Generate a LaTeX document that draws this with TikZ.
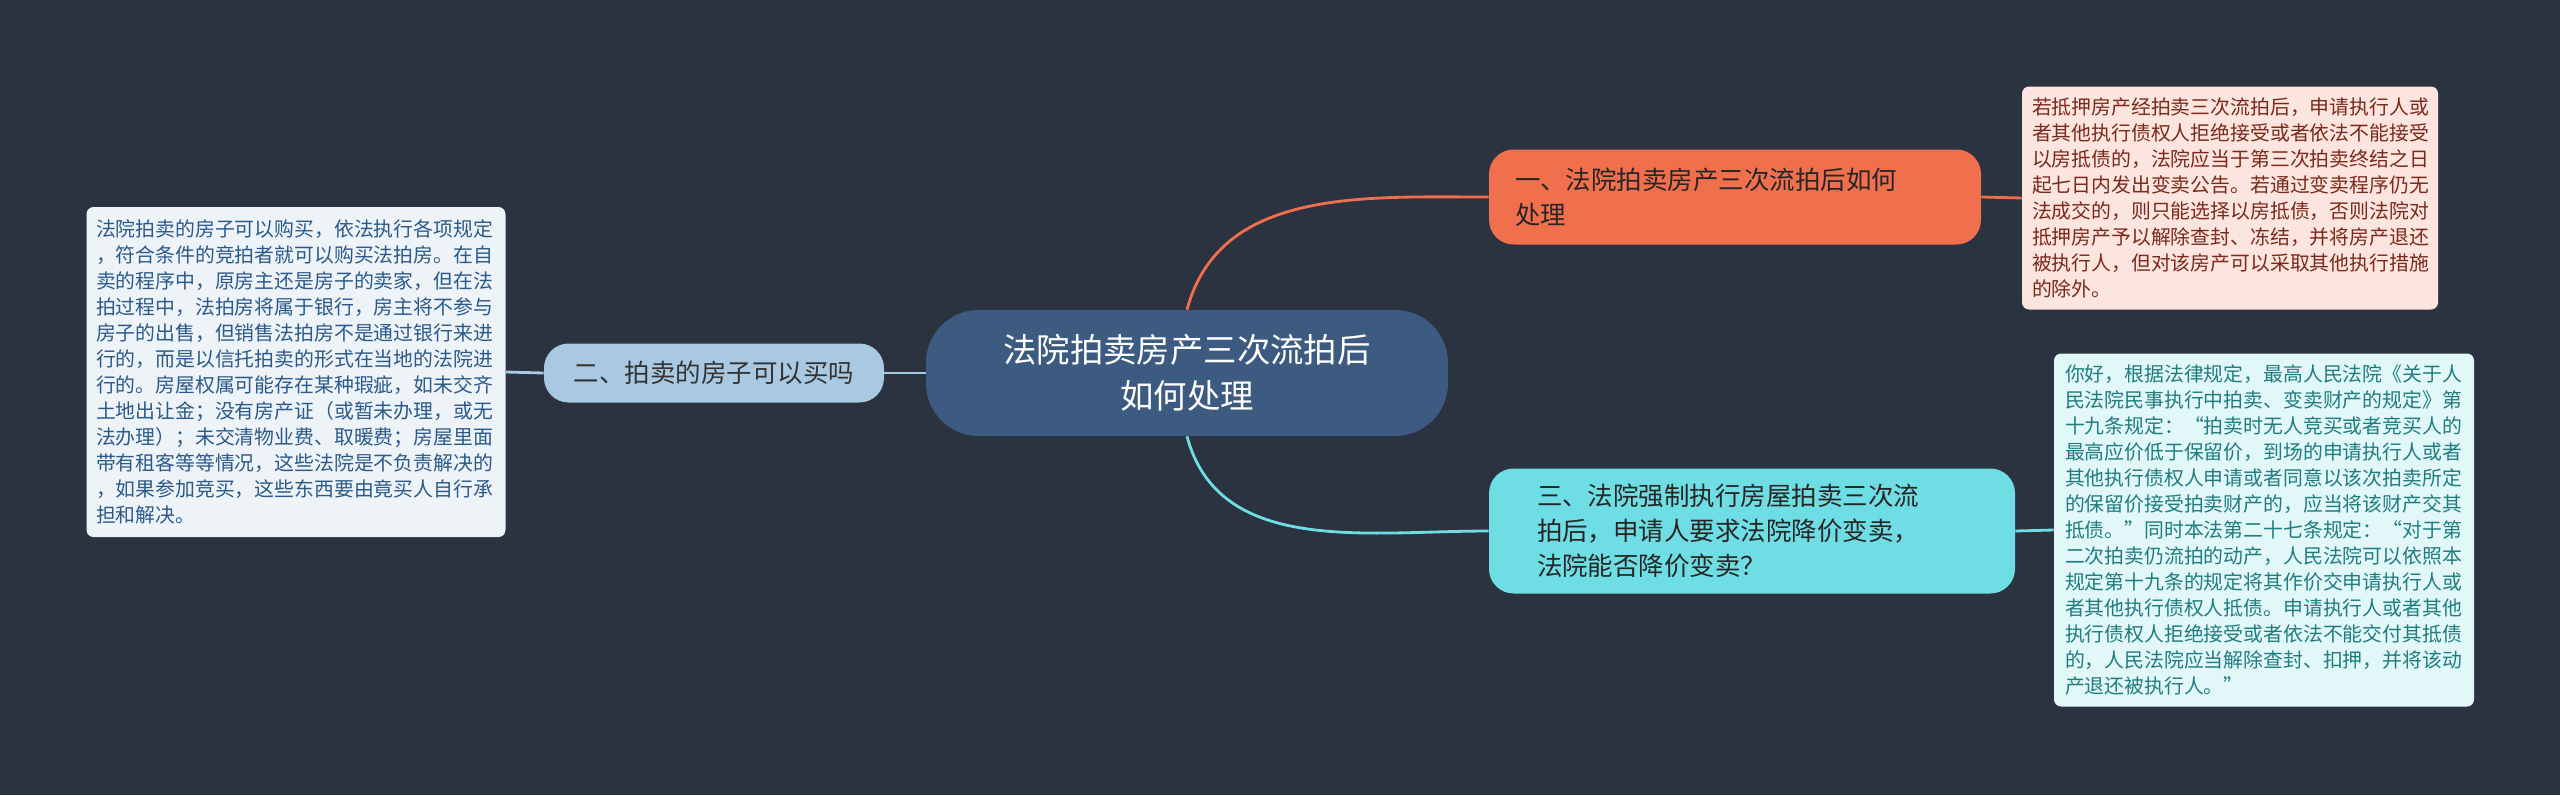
\documentclass[tikz,border=0pt]{standalone}
\usepackage{fontspec}
\setmainfont{Noto Sans CJK SC}
\usepackage{xcolor}
\usetikzlibrary{positioning}
\definecolor{bgdark}{HTML}{2B3240}
\definecolor{ctrblue}{HTML}{3D5A80}
\definecolor{brorange}{HTML}{F0704E}
\definecolor{brcyan}{HTML}{6EDDE4}
\definecolor{brblue}{HTML}{A9C9E2}
\definecolor{lforange}{HTML}{FCE4DF}
\definecolor{lfcyan}{HTML}{E2F7F8}
\definecolor{lfblue}{HTML}{EEF3F8}
\definecolor{txorange}{HTML}{7A2A1A}
\definecolor{txcyan}{HTML}{1F7C80}
\definecolor{txblue}{HTML}{2A5A8A}
\begin{document}
\begin{tikzpicture}[x=0.02cm, y=-0.02cm,
		topic/.style={rounded corners=30pt, align=center, inner sep=0pt}, % main nodes
		branch/.style={rounded corners=14pt, align=left, inner sep=0pt},
		leaf/.style={rounded corners=4pt, align=left, inner sep=0pt,
			font=\fontsize{11.3pt}{14.8pt}\selectfont},
		link/.style={line width=1.6pt}
		]
		\fill[bgdark] (0,0) rectangle (2560,795);
		% centre
		\node[topic, fill=ctrblue, text=white, minimum width=522*0.02cm, minimum height=126*0.02cm,
			font=\fontsize{19pt}{26pt}\selectfont] (ctr) at (1187,373) {法院拍卖房产三次流拍后\\如何处理};
		% branches
		\node[branch, fill=brorange, text=black!85, minimum width=492*0.02cm, minimum height=95*0.02cm,
			text width=440*0.02cm, font=\fontsize{14.5pt}{20pt}\selectfont] (sell) at (1735,197)
			{一、法院拍卖房产三次流拍后如何\\处理};
		\node[branch, fill=brblue, text=black!80, minimum width=340*0.02cm, minimum height=59*0.02cm,
			align=center, font=\fontsize{14.5pt}{20pt}\selectfont] (buy) at (714,373)
			{二、拍卖的房子可以买吗};
		\node[branch, fill=brcyan, text=black!85, minimum width=526*0.02cm, minimum height=125*0.02cm,
			text width=430*0.02cm, font=\fontsize{14.5pt}{20pt}\selectfont] (price) at (1752,531)
			{三、法院强制执行房屋拍卖三次流\\拍后，申请人要求法院降价变卖，\\法院能否降价变卖？};
		% leaves
		\node[leaf, fill=lforange, text=txorange, minimum width=416*0.02cm, minimum height=223*0.02cm,
			text width=396*0.02cm] (sellinfo) at (2230,198)
			{若抵押房产经拍卖三次流拍后，申请执行人或\\者其他执行债权人拒绝接受或者依法不能接受\\以房抵债的，法院应当于第三次拍卖终结之日\\起七日内发出变卖公告。若通过变卖程序仍无\\法成交的，则只能选择以房抵债，否则法院对\\抵押房产予以解除查封、冻结，并将房产退还\\被执行人，但对该房产可以采取其他执行措施\\的除外。};
		\node[leaf, fill=lfcyan, text=txcyan, minimum width=420*0.02cm, minimum height=353*0.02cm,
			text width=398*0.02cm] (priceinfo) at (2264,530)
			{你好，根据法律规定，最高人民法院《关于人\\民法院民事执行中拍卖、变卖财产的规定》第\\十九条规定：“拍卖时无人竞买或者竞买人的\\最高应价低于保留价，到场的申请执行人或者\\其他执行债权人申请或者同意以该次拍卖所定\\的保留价接受拍卖财产的，应当将该财产交其\\抵债。”同时本法第二十七条规定：“对于第\\二次拍卖仍流拍的动产，人民法院可以依照本\\规定第十九条的规定将其作价交申请执行人或\\者其他执行债权人抵债。申请执行人或者其他\\执行债权人拒绝接受或者依法不能交付其抵债\\的，人民法院应当解除查封、扣押，并将该动\\产退还被执行人。”};
		\node[leaf, fill=lfblue, text=txblue, minimum width=419*0.02cm, minimum height=330*0.02cm,
			text width=400*0.02cm] (buyinfo) at (296,372)
			{法院拍卖的房子可以购买，依法执行各项规定\\，符合条件的竞拍者就可以购买法拍房。在自\\卖的程序中，原房主还是房子的卖家，但在法\\拍过程中，法拍房将属于银行，房主将不参与\\房子的出售，但销售法拍房不是通过银行来进\\行的，而是以信托拍卖的形式在当地的法院进\\行的。房屋权属可能存在某种瑕疵，如未交齐\\土地出让金；没有房产证（或暂未办理，或无\\法办理）；未交清物业费、取暖费；房屋里面\\带有租客等等情况，这些法院是不负责解决的\\，如果参加竞买，这些东西要由竟买人自行承\\担和解决。};
		% connectors
		\draw[link, brorange] (ctr.north) to[out=75, in=180] (sell.west);
		\draw[link, brcyan] (ctr.south) to[out=-75, in=180] (price.west);
		\draw[link, brblue] (ctr.west) -- (buy.east);
		\draw[link, brorange] (sell.east) -- (sellinfo.west);
		\draw[link, brcyan] (price.east) -- (priceinfo.west);
		\draw[link, brblue] (buy.west) -- (buyinfo.east);
	\end{tikzpicture}
\end{document}
